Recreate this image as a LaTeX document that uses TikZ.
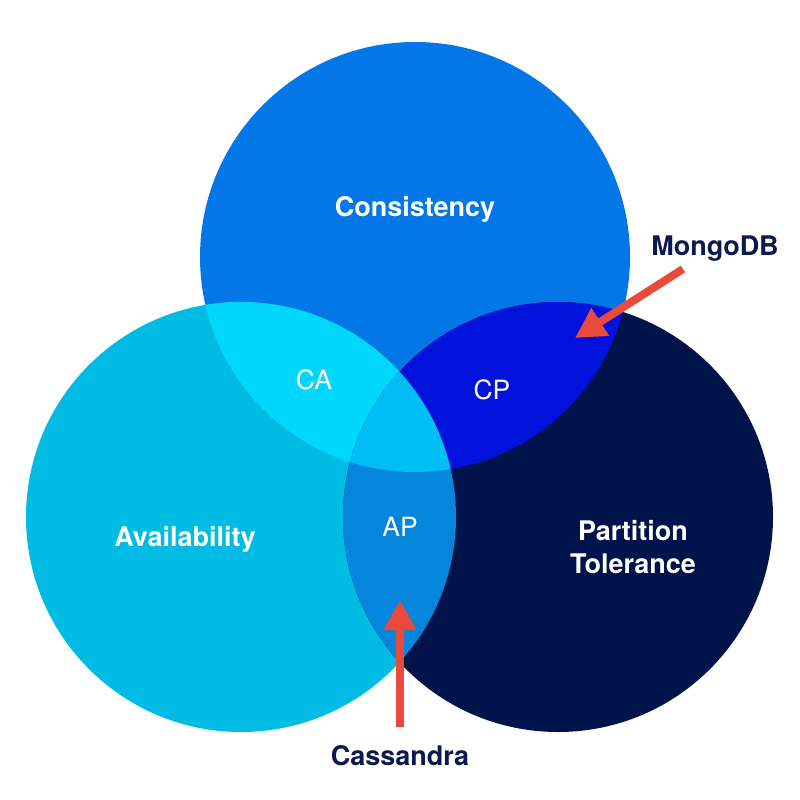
\documentclass[tikz,border=0pt]{standalone}
\usepackage{fontspec}
\setmainfont{TeX Gyre Heros}
\usepackage{xcolor}
\usepackage{tikz}
\usetikzlibrary{arrows.meta}

\definecolor{consblue}{HTML}{0477E8}
\definecolor{availcyan}{HTML}{00BCE4}
\definecolor{partnavy}{HTML}{00134A}
\definecolor{cacyan}{HTML}{00D7FC}
\definecolor{cpblue}{HTML}{0012DB}
\definecolor{apblue}{HTML}{0386DC}
\definecolor{capcyan}{HTML}{00BDF5}
\definecolor{arrowred}{HTML}{E84A3B}
\definecolor{labelnavy}{HTML}{0A1A4F}

\begin{document}
\begin{tikzpicture}[
    x=1pt, y=-1pt,
    setlabel/.style={font=\fontsize{27}{32.5}\selectfont\bfseries, text=white, anchor=base, align=center, inner sep=0pt},
    zonelabel/.style={font=\fontsize{26.5}{32}\selectfont, text=white, anchor=base, inner sep=0pt},
    dblabel/.style={font=\fontsize{27}{32}\selectfont\bfseries, text=labelnavy, anchor=base, inner sep=0pt},
    pointer/.style={draw=arrowred, line width=8pt, -{Triangle[length=30pt, width=31pt]}}
]
    \useasboundingbox (0,0) rectangle (800,800);
    \coordinate (C) at (415,257);
    \coordinate (A) at (241,517);
    \coordinate (P) at (558,517);

    % the three sets
    \fill[consblue] (C) circle (215pt);
    \fill[availcyan] (A) circle (215pt);
    \fill[partnavy] (P) circle (215pt);

    % pairwise overlaps
    \begin{scope}
        \clip (C) circle (215pt);
        \fill[cacyan] (A) circle (215pt);
        \fill[cpblue] (P) circle (215pt);
    \end{scope}
    \begin{scope}
        \clip (A) circle (215pt);
        \fill[apblue] (P) circle (215pt);
    \end{scope}
    \begin{scope}
        \clip (C) circle (215pt);
        \clip (A) circle (215pt);
        \fill[capcyan] (P) circle (215pt);
    \end{scope}

    \node[setlabel] (consistency) at (415,216) {Consistency};
    \node[setlabel] (availability) at (185,546) {Availability};
    \node[setlabel] (partition) at (633,573) {Partition\\Tolerance};
    \node[zonelabel] (ca) at (314,389) {CA};
    \node[zonelabel] (cp) at (492,399) {CP};
    \node[zonelabel] (ap) at (400,536) {AP};

    \node[dblabel] (mongodb) at (715,255) {MongoDB};
    \node[dblabel] (cassandra) at (400,765) {Cassandra};

    \coordinate (mongotail) at (683,269);
    \coordinate (mongotip) at (575,338);
    \coordinate (cassandratail) at (400,727);
    \coordinate (cassandratip) at (400,600);
    \draw[pointer] (mongotail) -- (mongotip);
    \draw[pointer] (cassandratail) -- (cassandratip);
\end{tikzpicture}
\end{document}
